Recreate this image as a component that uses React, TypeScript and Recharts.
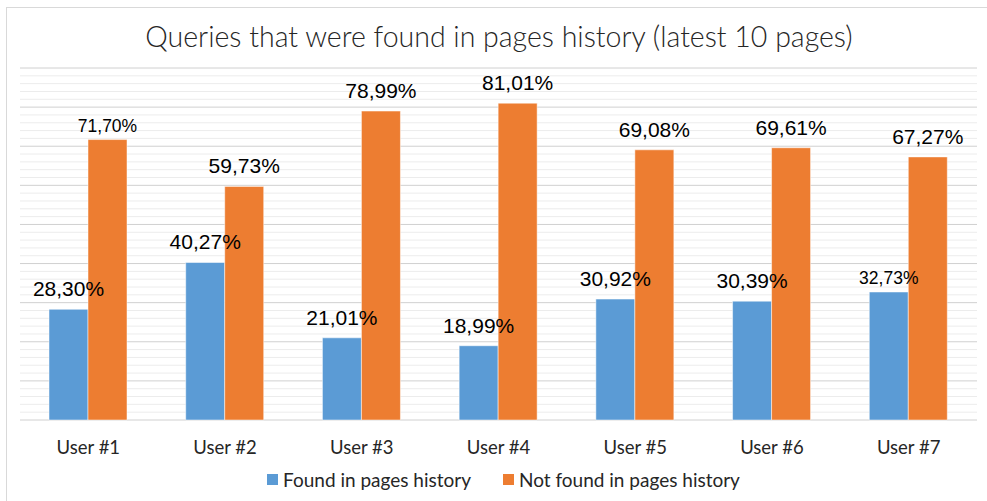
import React from 'react';
import { BarChart, Bar, XAxis, YAxis, CartesianGrid, LabelList } from 'recharts';

const title = 'Queries that were found in pages history (latest 10 pages)';
const users = ['User #1', 'User #2', 'User #3', 'User #4', 'User #5', 'User #6', 'User #7'];
const foundValues = [28.30, 40.27, 21.01, 18.99, 30.92, 30.39, 32.73];
const notFoundValues = [71.70, 59.73, 78.99, 81.01, 69.08, 69.61, 67.27];
const seriesNames = ['Found in pages history', 'Not found in pages history'];
const gridTicks = [0, 2, 4, 6, 8, 10, 12, 14, 16, 18, 20, 22, 24, 26, 28, 30, 32, 34, 36, 38, 40, 42, 44, 46, 48, 50, 52, 54, 56, 58, 60, 62, 64, 66, 68, 70, 72, 74, 76, 78, 80, 82, 84, 86, 88, 90];

const COLORS = ['#5B9BD5', '#ED7D31'];
const SMALL_LABELS: number[][] = [[6], [0]];
const LEGEND_LEFT = [267, 503];

const data = users.map((u, i) => ({ user: u, found: foundValues[i], notFound: notFoundValues[i] }));

const fmt = (v: number) => v.toFixed(2).replace('.', ',') + '%';

const makeLabel = (series: number) => (props: any) => {
  const { x, y, width, value, index } = props;
  const small = SMALL_LABELS[series].includes(index);
  return (
    <text
      x={Number(x) + Number(width) / 2}
      y={Number(y) - (small ? 8 : 13)}
      textAnchor="middle"
      fontFamily="'Liberation Sans', Arial, sans-serif"
      fontSize={small ? 17.5 : 21}
      fill="#000"
    >
      {fmt(Number(value))}
    </text>
  );
};

const gridLine = (p: any) => {
  const major = Math.round(Number(p.index)) % 5 === 0;
  return (
    <line
      key={`g-${p.index}`}
      x1={p.x1}
      x2={p.x2}
      y1={p.y1}
      y2={p.y2}
      stroke={major ? '#d0d0d0' : '#ececec'}
      strokeWidth={1}
      fill="none"
    />
  );
};

export default function App() {
  return (
    <div style={{ position: 'absolute', left: 0, top: 0, width: 987, height: 501, background: '#fff', overflow: 'hidden' }}>
      <div style={{ position: 'absolute', left: 6, top: 7, width: 1000, height: 600, borderLeft: '1px solid #d9d9d9', borderTop: '1px solid #d9d9d9' }} />
      <div style={{ position: 'absolute', left: 0, top: 19, width: 998, textAlign: 'center', fontFamily: 'Lato, sans-serif', fontWeight: 300, fontSize: 28.5, color: '#262626', whiteSpace: 'nowrap' }}>
        {title}
      </div>
      <div style={{ position: 'absolute', left: 0, top: 0 }}>
        <BarChart width={987} height={501} data={data} margin={{ top: 68, right: 10, left: 20, bottom: 0 }} barGap={0} barSize={39}>
          <YAxis hide domain={[0, 90]} ticks={gridTicks} interval={0} type="number" />
          <CartesianGrid vertical={false} horizontalValues={gridTicks} horizontal={gridLine} />
          <XAxis
            dataKey="user"
            axisLine={false}
            tickLine={false}
            height={81}
            interval={0}
            tick={{ fontFamily: 'Lato, sans-serif', fontSize: 18.5, fill: '#262626', dy: 13 }}
          />
          <Bar dataKey="found" name={seriesNames[0]} fill={COLORS[0]} stroke="#fff" strokeWidth={0.5} isAnimationActive={false}>
            <LabelList dataKey="found" content={makeLabel(0)} />
          </Bar>
          <Bar dataKey="notFound" name={seriesNames[1]} fill={COLORS[1]} stroke="#fff" strokeWidth={0.5} isAnimationActive={false}>
            <LabelList dataKey="notFound" content={makeLabel(1)} />
          </Bar>
        </BarChart>
      </div>
      {seriesNames.map((n, i) => (
        <div key={n} style={{ position: 'absolute', left: LEGEND_LEFT[i], top: 468, display: 'flex', alignItems: 'center', fontFamily: 'Lato, sans-serif', fontSize: 19, color: '#262626', whiteSpace: 'nowrap' }}>
          <div style={{ width: 11, height: 11, background: COLORS[i], marginRight: 5 }} />
          <span>{n}</span>
        </div>
      ))}
    </div>
  );
}
